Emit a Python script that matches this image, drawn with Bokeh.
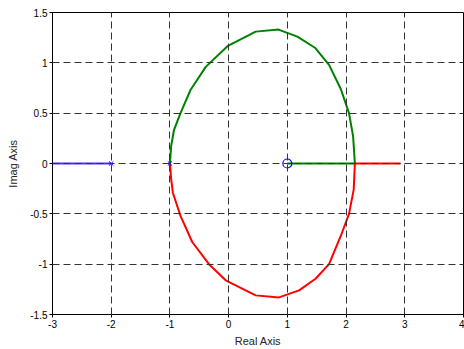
from bokeh.plotting import figure
from bokeh.models import Range1d, FixedTicker
from bokeh.embed import file_html
from bokeh.resources import INLINE

# Root locus branches
upper_re = [-1.0, -0.98, -0.93, -0.82, -0.65, -0.39, -0.02, 0.46, 0.85, 1.17, 1.47, 1.71, 1.91, 2.05, 2.12, 2.15]
upper_im = [0.0, 0.17, 0.335, 0.50, 0.73, 0.96, 1.165, 1.31, 1.33, 1.26, 1.15, 0.98, 0.74, 0.50, 0.27, 0.0]
lower_re = [-1.0, -0.98, -0.95, -0.82, -0.62, -0.335, -0.05, 0.46, 0.857, 1.2, 1.48, 1.71, 1.91, 2.05, 2.13, 2.15]
lower_im = [0.0, -0.15, -0.29, -0.52, -0.78, -1.0, -1.16, -1.31, -1.33, -1.26, -1.145, -1.0, -0.72, -0.50, -0.26, 0.0]
green_axis_re = [2.15, 1.0]
red_axis_re = [2.15, 2.93]
blue_axis_re = [-2.0, -3.0]
poles_re = [-2.0, -1.0]
zeros_re = [1.0]

x_ticks = [-3, -2, -1, 0, 1, 2, 3, 4]
y_ticks = [-1.5, -1.0, -0.5, 0.0, 0.5, 1.0, 1.5]
y_tick_labels = ["-1.5", "-1", "-0.5", "0", "0.5", "1", "1.5"]
x_tick_labels = ["-3", "-2", "-1", "0", "1", "2", "3", "4"]

p = figure(width=464, height=349, output_backend="svg", toolbar_location=None,
           x_range=Range1d(-3, 4), y_range=Range1d(-1.5, 1.5),
           min_border_left=52, min_border_top=12, min_border_bottom=33, min_border_right=1)

p.outline_line_color = "black"
p.outline_line_width = 1
p.background_fill_color = "white"
p.border_fill_color = "white"

green = "#008000"
red = "#ff0000"
blue = "#5533ee"

p.line(upper_re, upper_im, line_color=green, line_width=2)
p.line(green_axis_re, [0, 0], line_color=green, line_width=2)
p.line(lower_re, lower_im, line_color=red, line_width=2)
p.line(red_axis_re, [0, 0], line_color=red, line_width=2)
p.line(blue_axis_re, [0, 0], line_color=blue, line_width=2)
p.scatter(poles_re, [0] * len(poles_re), marker="x", size=6, line_color="#0000ff", line_width=1)
p.scatter(zeros_re, [0] * len(zeros_re), marker="circle", size=9, line_color="#0000ff",
          fill_color=None, line_width=1.2)

p.xaxis.ticker = FixedTicker(ticks=x_ticks)
p.yaxis.ticker = FixedTicker(ticks=y_ticks)
p.xaxis.major_label_overrides = {float(t): s for t, s in zip(x_ticks, x_tick_labels)}
p.yaxis.major_label_overrides = {float(t): s for t, s in zip(y_ticks, y_tick_labels)}

for ax in (p.xaxis, p.yaxis):
    ax.minor_tick_line_color = None
    ax.major_tick_in = 3
    ax.major_tick_out = 3
    ax.major_tick_line_color = "black"
    ax.axis_line_color = "black"
    ax.major_label_text_font = "Liberation Sans"
    ax.major_label_text_font_size = "10px"
    ax.major_label_text_color = "black"
    ax.axis_label_text_font = "Liberation Sans"
    ax.axis_label_text_font_size = "11px"
    ax.axis_label_text_font_style = "normal"
    ax.axis_label_text_color = "#222222"
    ax.major_label_standoff = 2

p.xaxis.axis_label = "Real Axis"
p.yaxis.axis_label = "Imag Axis"
p.xaxis.axis_label_standoff = 4
p.yaxis.axis_label_standoff = 8

p.grid.grid_line_color = "#333333"
p.grid.grid_line_dash = "7 4"
p.grid.grid_line_width = 1
p.grid.level = "overlay"

open("out.html", "w").write(file_html(p, INLINE))
